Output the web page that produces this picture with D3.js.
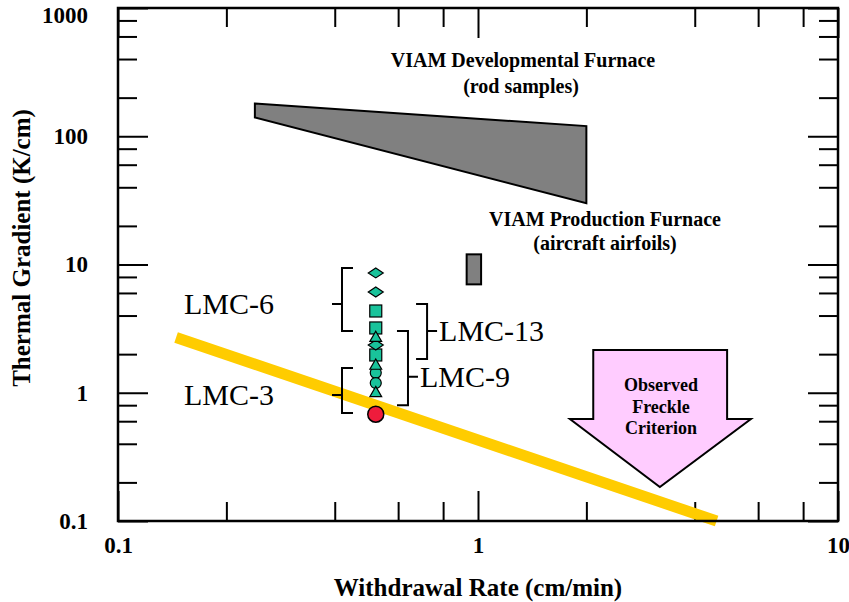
<!DOCTYPE html>
<html>
<head>
<meta charset="utf-8">
<script src="https://cdn.jsdelivr.net/npm/d3@7"></script>
<style>
  html, body { margin: 0; padding: 0; background: #fff; }
  svg { display: block; }
  text { font-family: "Liberation Serif", "Times New Roman", serif; }
</style>
</head>
<body>
<svg id="chart" width="849" height="602"></svg>
<script>
// ---------- data ----------
const xTickValues = [0.1, 1, 10];
const xTickLabels = ["0.1", "1", "10"];
const xMinorTicks = [0.2, 0.4, 0.6, 0.8, 2, 4, 6, 8];
const yTickValues = [0.1, 1, 10, 100, 1000];
const yTickLabels = ["0.1", "1", "10", "100", "1000"];
const yMinorTicks = [0.2, 0.4, 0.6, 0.8, 2, 4, 6, 8, 20, 40, 60, 80, 200, 400, 600, 800];

const xTitle = "Withdrawal Rate (cm/min)";
const yTitle = "Thermal Gradient (K/cm)";

// measured samples (all at the same withdrawal rate)
const sampleRate = 0.52;
const diamondValues = [8.6, 6.1, 2.36];
const squareValues = [4.34, 3.2, 1.97];
const triangleValues = [2.72, 1.65, 1.01];
const circleValues = [1.43, 1.19];
const redCircleValues = [0.68];

// freckle criterion line
const criterionX = [0.145, 4.6];
const criterionY = [2.7, 0.1];

// VIAM developmental furnace region (rod samples)
const devFurnaceX = [0.24, 2.0, 2.0, 0.24];
const devFurnaceY = [180, 120, 30, 140];

// VIAM production furnace region (aircraft airfoils)
const prodFurnaceX = [0.93, 1.02];
const prodFurnaceY = [7.0, 12.0];

// observed freckle criterion arrow
const arrowX = [2.09, 4.92, 4.92, 5.73, 3.2, 1.8, 2.09];
const arrowY = [2.15, 2.15, 0.624, 0.624, 0.184, 0.624, 0.624];

// alloy brackets
const bracketNames = ["LMC-6", "LMC-3", "LMC-13", "LMC-9"];
const bracketX = [0.419, 0.419, 0.722, 0.639];
const bracketLow = [3.03, 0.695, 1.83, 0.80];
const bracketHigh = [9.4, 1.56, 4.92, 3.03];
const bracketMid = [4.92, 0.96, 3.03, 1.33];
const bracketSide = ["left", "left", "right", "right"];

// ---------- layout ----------
const svg = d3.select("#chart");
const L = 118, R = 838, T = 8, B = 521;
const x = d3.scaleLog().domain([0.1, 10]).range([L, R]);
const y = d3.scaleLog().domain([0.1, 1000]).range([B, T]);

const majorLen = 30, minorLen = 19;
const teal = "#19c39b";

// ---------- axes (inward ticks on all sides) ----------
function styleAxis(g) {
  g.select(".domain").remove();
  g.selectAll(".tick line").attr("stroke", "#000").attr("stroke-width", 2);
  g.selectAll(".tick text")
    .attr("fill", "#000")
    .style("font-family", "'Liberation Serif', 'Times New Roman', serif")
    .style("font-weight", "bold")
    .style("font-size", "23px");
}

svg.append("g").attr("transform", `translate(0,${B})`)
  .call(d3.axisBottom(x).tickValues(xTickValues).tickSize(-majorLen).tickPadding(16)
    .tickFormat((d, i) => xTickLabels[i]))
  .call(styleAxis);
svg.append("g").attr("transform", `translate(0,${B})`)
  .call(d3.axisBottom(x).tickValues(xMinorTicks).tickSize(-minorLen).tickFormat(""))
  .call(styleAxis);
svg.append("g").attr("transform", `translate(0,${T})`)
  .call(d3.axisTop(x).tickValues(xTickValues).tickSize(-majorLen).tickFormat(""))
  .call(styleAxis);
svg.append("g").attr("transform", `translate(0,${T})`)
  .call(d3.axisTop(x).tickValues(xMinorTicks).tickSize(-minorLen).tickFormat(""))
  .call(styleAxis);

const yAxisG = svg.append("g").attr("transform", `translate(${L},0)`)
  .call(d3.axisLeft(y).tickValues(yTickValues).tickSize(-majorLen).tickPadding(30)
    .tickFormat((d, i) => yTickLabels[i]))
  .call(styleAxis);
// top label sits a little below the frame corner, as in the reference
yAxisG.selectAll(".tick text").filter(d => d === 1000).attr("dy", "0.62em");

svg.append("g").attr("transform", `translate(${L},0)`)
  .call(d3.axisLeft(y).tickValues(yMinorTicks).tickSize(-minorLen).tickFormat(""))
  .call(styleAxis);
svg.append("g").attr("transform", `translate(${R},0)`)
  .call(d3.axisRight(y).tickValues(yTickValues).tickSize(-majorLen).tickFormat(""))
  .call(styleAxis);
svg.append("g").attr("transform", `translate(${R},0)`)
  .call(d3.axisRight(y).tickValues(yMinorTicks).tickSize(-minorLen).tickFormat(""))
  .call(styleAxis);

// ---------- regions ----------
const poly = d3.line().x(d => x(d[0])).y(d => y(d[1]));

svg.append("path")
  .attr("d", poly(devFurnaceX.map((v, i) => [v, devFurnaceY[i]])) + "Z")
  .attr("fill", "#808080").attr("stroke", "#000").attr("stroke-width", 2)
  .attr("stroke-linejoin", "miter");

svg.append("rect")
  .attr("x", x(prodFurnaceX[0])).attr("y", y(prodFurnaceY[1]))
  .attr("width", x(prodFurnaceX[1]) - x(prodFurnaceX[0]))
  .attr("height", y(prodFurnaceY[0]) - y(prodFurnaceY[1]))
  .attr("fill", "#808080").attr("stroke", "#000").attr("stroke-width", 2);

svg.append("path")
  .attr("d", poly(arrowX.map((v, i) => [v, arrowY[i]])) + "Z")
  .attr("fill", "#ffccff").attr("stroke", "#000").attr("stroke-width", 2)
  .attr("stroke-linejoin", "miter");

// criterion line
svg.append("path")
  .attr("d", poly(criterionX.map((v, i) => [v, criterionY[i]])))
  .attr("fill", "none").attr("stroke", "#ffcc00").attr("stroke-width", 11)
  .attr("stroke-linecap", "butt");

// ---------- brackets ----------
bracketNames.forEach((name, i) => {
  const bx = x(bracketX[i]);
  const y1 = y(bracketHigh[i]), y2 = y(bracketLow[i]);
  const ym = y(bracketMid[i]);
  const dir = bracketSide[i] === "left" ? 1 : -1;
  const serif = 11, tick = 10;
  const path = d3.path();
  path.moveTo(bx + dir * serif, y1); path.lineTo(bx, y1); path.lineTo(bx, y2); path.lineTo(bx + dir * serif, y2);
  path.moveTo(bx, ym); path.lineTo(bx - dir * tick, ym);
  svg.append("path").attr("d", path.toString())
    .attr("fill", "none").attr("stroke", "#000").attr("stroke-width", 2);
  const t = svg.append("text")
    .attr("y", ym).attr("dy", "0.33em")
    .style("font-size", "30px").attr("fill", "#000")
    .text(name);
  if (dir === 1) t.attr("x", bx - 68).attr("text-anchor", "end");
  else t.attr("x", bx + 12).attr("text-anchor", "start");
});

// ---------- markers ----------
const cx = x(sampleRate);
function diamondPath(px, py) {
  return `M${px - 7.5},${py}L${px},${py - 5}L${px + 7.5},${py}L${px},${py + 5}Z`;
}
const markers = svg.append("g").attr("stroke", "#000").attr("stroke-width", 1.2).attr("fill", teal);
squareValues.forEach(v => {
  markers.append("rect").attr("x", cx - 6).attr("y", y(v) - 6).attr("width", 12).attr("height", 12);
});
diamondValues.forEach(v => {
  markers.append("path").attr("d", diamondPath(cx, y(v)));
});
circleValues.forEach(v => {
  markers.append("circle").attr("cx", cx).attr("cy", y(v)).attr("r", 5.5);
});
triangleValues.forEach(v => {
  markers.append("path")
    .attr("d", d3.symbol().type(d3.symbolTriangle).size(60)())
    .attr("transform", `translate(${cx},${y(v) + 1})`);
});
redCircleValues.forEach(v => {
  svg.append("circle").attr("cx", cx).attr("cy", y(v)).attr("r", 8)
    .attr("fill", "#ee1c3c").attr("stroke", "#000").attr("stroke-width", 1.5);
});

// ---------- frame ----------
svg.append("rect").attr("x", L).attr("y", T).attr("width", R - L).attr("height", B - T)
  .attr("fill", "none").attr("stroke", "#000").attr("stroke-width", 2.5);

// ---------- annotations ----------
function boldText(tx, ty, str, size, anchor) {
  return svg.append("text").attr("x", tx).attr("y", ty).attr("dy", "0.35em")
    .attr("text-anchor", anchor || "middle")
    .style("font-weight", "bold").style("font-size", size + "px").attr("fill", "#000")
    .text(str);
}
boldText(523, 60, "VIAM Developmental Furnace", 20);
boldText(521, 86, "(rod samples)", 20);
boldText(605, 219, "VIAM Production Furnace", 20);
boldText(605, 243, "(aircraft airfoils)", 20);
boldText(661, 385, "Observed", 18);
boldText(661, 407, "Freckle", 18);
boldText(661, 428, "Criterion", 18);

// axis titles
svg.append("text").attr("x", (L + R) / 2).attr("y", 587).attr("dy", "0.35em")
  .attr("text-anchor", "middle").style("font-weight", "bold").style("font-size", "25px")
  .text(xTitle);
svg.append("text").attr("transform", "translate(21,248) rotate(-90)").attr("dy", "0.35em")
  .attr("text-anchor", "middle").style("font-weight", "bold").style("font-size", "25px")
  .text(yTitle);
</script>
</body>
</html>
